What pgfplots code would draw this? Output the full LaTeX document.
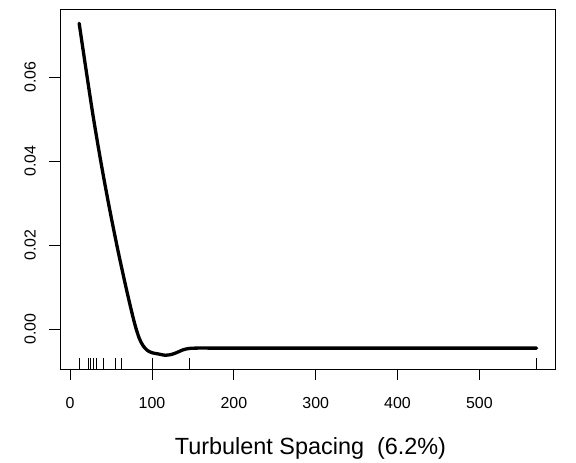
\documentclass[border=0pt]{standalone}
\usepackage{pgfplots}
\pgfplotsset{compat=1.18}
\usepackage{fontspec}
\setmainfont{Liberation Sans}

% smooth term estimate for turbulent spacing
\pgfplotstableread{
x      y
11     0.0728
18     0.0636
28     0.0508
38     0.0393
48     0.0288
58     0.0191
66     0.0119
71     0.0076
76     0.0035
80     0.0005
84.5   -0.0022
89     -0.0039
94     -0.0050
100    -0.0056
108    -0.0059
116    -0.0062
124    -0.0060
131    -0.0055
138    -0.0049
145    -0.0046
155    -0.0045
200    -0.0045
570    -0.0045
}\curvedata

% observed values (rug), drawn from the lower box edge upwards
\pgfplotstableread{
x      y         u   v
11     -0.00947  0   0.00257
22     -0.00947  0   0.00257
25     -0.00947  0   0.00257
28.5   -0.00947  0   0.00257
32     -0.00947  0   0.00257
41     -0.00947  0   0.00257
55     -0.00947  0   0.00257
63     -0.00947  0   0.00257
100    -0.00947  0   0.00257
145.5  -0.00947  0   0.00257
570    -0.00947  0   0.00257
}\rugdata

\begin{document}
\begin{tikzpicture}[x=1bp,y=1bp]
\useasboundingbox (0,0) rectangle (576,463);
\begin{axis}[
  at={(60bp,94bp)}, anchor=south west,
  width=495bp, height=360bp, scale only axis,
  xmin=-12.4, xmax=592.4, ymin=-0.00947, ymax=0.0762,
  xtick={0,100,200,300,400,500},
  ytick={0,0.02,0.04,0.06},
  yticklabels={0.00,0.02,0.04,0.06},
  scaled y ticks=false,
  tick align=outside, tick pos=left,
  major tick length=11bp,
  tick style={black, line width=0.9bp},
  axis line style={line width=0.9bp},
  /pgf/number format/assume math mode=true,
  xticklabel style={font=\fontsize{16}{16}\selectfont, inner sep=0pt, anchor=north, yshift=-17bp},
  yticklabel style={font=\fontsize{16}{16}\selectfont, rotate=90, inner sep=0pt, anchor=south},
  yticklabel shift=13bp,
  xlabel={Turbulent Spacing\ \ (6.2\%)},
  xlabel style={font=\fontsize{23.5}{23.5}\selectfont, at={(axis description cs:0.5,0)}, anchor=base, inner sep=0pt, yshift=-86bp, xshift=3bp},
]
\addplot[black, line width=3.3bp, line cap=round, smooth, tension=0.5] table[x=x, y=y] {\curvedata};
\addplot[black, line width=0.6bp, quiver={u=\thisrow{u}, v=\thisrow{v}}] table[x=x, y=y] {\rugdata};
\end{axis}
\end{tikzpicture}
\end{document}
